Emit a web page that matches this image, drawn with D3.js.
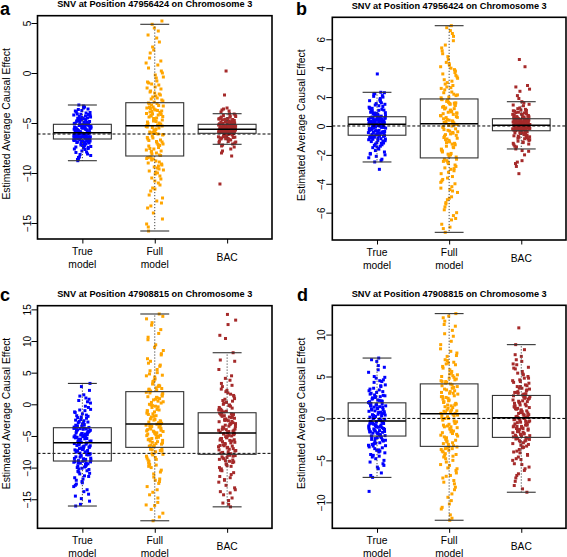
<!DOCTYPE html>
<html><head><meta charset="utf-8">
<script src="https://cdn.jsdelivr.net/npm/d3@7"></script>
<style>body{margin:0;background:#fff}svg{display:block;font-family:"Liberation Sans",Arial,Helvetica,sans-serif}</style>
</head><body><svg id="chart" width="567" height="557"></svg>
<script>
// ---------------- data ----------------
const categories = ["True\nmodel", "Full\nmodel", "BAC"];
const seriesColors = ["#0000FF", "#FFA500", "#A52A2A"];
const panelLetters = ["a", "b", "c", "d"];
const panelTitles = [
  "SNV at Position 47956424 on Chromosome 3",
  "SNV at Position 47956424 on Chromosome 3",
  "SNV at Position 47908815 on Chromosome 3",
  "SNV at Position 47908815 on Chromosome 3"
];
const yAxisTitle = "Estimated Average Causal Effect";
const yTicksA = [5, 0, -5, -10, -15];
const yTicksB = [6, 4, 2, 0, -2, -4, -6];
const yTicksC = [15, 10, 5, 0, -5, -10, -15];
const yTicksD = [10, 5, 0, -5, -10];
const yDomainA = [-16.6, 5.73];
const yDomainB = [-7.89, 7.52];
const yDomainC = [-19.59, 15.58];
const yDomainD = [-13.1, 13.49];
const trueEffects = [-6.1, 0, -7.75, 0];
// box statistics per category: [lower whisker, Q1, median, Q3, upper whisker]
const boxA = [[-8.77, -6.6, -5.97, -5.13, -3.2], [-15.8, -8.3, -5.27, -2.97, 4.87], [-7.13, -6.03, -5.63, -5.13, -4.07]];
const boxB = [[-2.49, -0.64, 0.12, 0.64, 2.33], [-7.36, -2.21, 0.16, 1.87, 6.94], [-1.59, -0.33, 0.05, 0.5, 1.68]];
const boxC = [[-16.07, -8.96, -6.06, -3.7, 3.3], [-18.4, -6.8, -3.1, 2.0, 14.27], [-16.2, -7.9, -4.53, -1.33, 8.15]];
const boxD = [[-7.03, -2.1, -0.32, 1.86, 7.2], [-12.14, -3.33, 0.55, 4.12, 12.5], [-8.8, -2.26, 0.07, 2.74, 8.8]];

const aTrue = [-6.7,-7.3,-8.77,-6.9,-7.8,-6.65,-7.1,-8.4,-6.8,-7.5,-6.95,-8.1,-7.2,-6.75,-7.65,-8.6,-7.0,-6.85,-7.4,-7.9,-6.7,-8.25,-7.15,-6.9,-7.55,
 -6.1,-6.45,-6.25,-6.55,-6.0,-6.35,-6.2,-6.5,-6.05,-6.4,-6.15,-6.3,-6.58,-6.02,-6.22,-6.48,-6.12,-6.38,-6.28,-6.52,-6.08,-6.42,-6.18,-6.32,-6.6,
 -5.8,-5.4,-5.6,-5.2,-5.9,-5.5,-5.3,-5.7,-5.15,-5.45,-5.85,-5.65,-5.25,-5.55,-5.35,-5.75,-5.95,-5.18,-5.62,-5.42,-5.82,-5.28,-5.52,-5.72,-5.13,
 -4.9,-4.4,-5.0,-4.1,-3.6,-4.7,-5.05,-4.3,-3.2,-4.85,-4.55,-3.9,-4.95,-4.6,-4.2,-3.4,-4.75,-5.1,-4.45,-3.8,-4.0,-4.65,-4.25,-3.5,-4.8,
 -6.72,-7.05,-7.6,-6.88,-8.45,-6.62,-7.25,-7.95,-6.78,-8.15,-7.35,-6.98,-8.65,-7.45,-6.83,
 -6.03,-6.27,-6.43,-6.57,-6.13,-6.33,-6.07,-6.47,-6.23,-6.53,-6.17,-6.37,-6.11,-6.41,-6.29,
 -5.17,-5.33,-5.49,-5.66,-5.84,-5.23,-5.41,-5.57,-5.77,-5.93,-5.27,-5.47,-5.69,-5.87,-5.37,
 -4.92,-4.52,-4.15,-3.75,-5.02,-4.68,-4.35,-3.95,-3.3,-4.82,-4.48,-4.12,-5.08,-4.62,-3.65];
const aFull = [-8.5,-9.2,-10.1,-15.8,-8.9,-11.5,-9.7,-12.8,-8.4,-10.6,-9.4,-13.5,-11.0,-8.7,-14.6,-9.9,-12.2,-10.3,-8.6,-15.1,-9.5,-11.8,-13.0,-10.8,-9.0,
 -5.5,-6.3,-7.1,-8.0,-5.9,-6.7,-7.6,-5.4,-6.1,-7.9,-6.9,-5.7,-7.3,-8.2,-6.5,-5.35,-7.0,-6.0,-7.8,-5.8,-6.6,-7.45,-8.1,-6.2,-5.6,
 -3.1,-4.0,-4.8,-3.5,-5.2,-4.3,-3.8,-4.6,-3.0,-5.0,-4.1,-3.3,-4.5,-3.9,-5.1,-3.6,-4.9,-4.2,-3.2,-4.7,-3.7,-4.4,-5.15,-3.4,-4.05,
 -2.5,-1.8,0.2,-2.0,3.8,-1.2,4.87,-2.8,-0.5,1.5,-2.2,2.3,-1.5,0.8,-2.6,5.2,-0.2,-1.0,3.1,-2.4,1.0,-0.8,2.0,-1.6,4.5,
 -8.45,-9.3,-10.5,-12.5,-8.8,-9.8,-11.2,-14.0,-8.55,-10.0,-13.3,-9.1,-11.6,-15.4,-9.6,
 -5.45,-6.15,-6.85,-7.55,-8.25,-5.75,-6.45,-7.15,-7.85,-5.3,-6.05,-6.75,-7.25,-5.95,-7.7,
 -3.05,-3.55,-4.15,-4.65,-5.05,-3.25,-3.85,-4.35,-4.85,-3.45,-3.95,-4.55,-5.25,-3.75,-4.25,
 -2.7,-1.4,0.5,-2.1,2.6,-0.4,3.5,-1.9,1.2,-2.9,-0.9,4.2,-1.1,0.0,-2.3];
const aBAC = [-6.1,-6.5,-7.1,-6.2,-6.8,-6.05,-6.35,-7.4,-6.15,-6.6,-8.3,-6.25,-6.9,-6.1,-7.8,-6.45,-6.3,-11.1,-6.7,-6.08,-7.0,-6.55,-8.0,-6.2,-6.4,
 -5.7,-5.9,-5.8,-6.0,-5.65,-5.85,-5.75,-5.95,-5.68,-5.88,-5.78,-5.98,-5.72,-5.82,-5.92,-5.66,-5.86,-5.76,-5.96,-5.7,-5.8,-5.9,-5.74,-5.84,-5.94,
 -5.2,-5.4,-5.5,-5.3,-5.6,-5.25,-5.45,-5.35,-5.55,-5.15,-5.42,-5.28,-5.58,-5.38,-5.48,-5.18,-5.52,-5.32,-5.22,-5.6,-5.44,-5.34,-5.56,-5.26,-5.46,
 -5.0,-4.7,-4.4,-5.1,-4.9,-4.6,-4.07,-5.05,-4.8,-3.5,-4.5,-4.95,-2.2,-4.2,-4.85,-3.7,-4.65,0.2,-5.08,-4.3,-3.6,-4.75,-4.55,-3.9,-4.98,
 -6.12,-6.38,-6.65,-7.2,-6.05,-6.28,-6.5,-7.6,-6.18,-6.42,-6.85,-7.3,-6.1,-6.58,-6.95,
 -5.67,-5.77,-5.87,-5.97,-5.73,-5.83,-5.93,-5.69,-5.79,-5.89,-5.99,-5.71,-5.81,-5.91,-5.75,
 -5.19,-5.29,-5.39,-5.49,-5.59,-5.21,-5.31,-5.41,-5.51,-5.61,-5.24,-5.36,-5.47,-5.54,-5.16,
 -5.03,-4.88,-4.72,-4.58,-4.42,-4.25,-4.1,-5.06,-4.92,-4.78,-4.62,-4.35,-3.8,-4.68,-4.97];

const bTrue = [-0.7,-1.2,-2.49,-0.9,-1.6,-0.75,-1.05,-2.1,-0.8,-1.4,-0.68,-1.8,-1.0,-0.85,-2.3,-1.25,-0.95,-3.0,-1.5,-0.72,-1.15,-1.95,-0.88,-1.35,-2.0,
 -0.5,-0.2,0.0,-0.6,-0.3,0.1,-0.45,-0.1,-0.55,-0.25,0.05,-0.35,-0.15,-0.6,-0.05,-0.4,0.08,-0.28,-0.5,-0.12,-0.38,0.02,-0.22,-0.48,-0.08,
 0.2,0.4,0.6,0.3,0.5,0.15,0.45,0.25,0.55,0.35,0.62,0.18,0.42,0.28,0.52,0.38,0.22,0.58,0.32,0.48,0.14,0.44,0.26,0.56,0.36,
 0.8,1.2,2.33,0.9,1.5,0.7,1.0,2.1,0.75,1.3,1.8,0.85,1.1,3.6,0.95,1.6,2.25,0.72,1.4,1.05,2.0,0.88,1.25,1.7,2.2,
 -0.66,-0.82,-1.08,-1.3,-1.7,-2.2,-0.7,-0.92,-1.18,-1.45,-1.9,-2.4,-0.78,-1.02,-1.55,
 -0.58,-0.42,-0.32,-0.18,-0.02,0.07,-0.52,-0.36,-0.24,-0.1,0.11,-0.46,-0.3,-0.14,0.0,
 0.16,0.24,0.34,0.43,0.53,0.61,0.19,0.29,0.39,0.49,0.59,0.21,0.31,0.47,0.57,
 0.68,0.78,0.92,1.08,1.22,1.35,1.55,1.75,1.9,2.05,2.3,0.82,0.98,1.15,1.45];
const bFull = [-2.5,-3.3,-4.2,-7.36,-2.8,-5.0,-3.7,-6.2,-2.4,-4.6,-3.0,-5.8,-4.0,-2.6,-6.8,-3.5,-5.4,-2.3,-4.4,-7.1,-3.1,-5.1,-3.9,-6.5,-2.9,
 -0.2,-1.0,-1.8,-0.5,-1.4,0.1,-2.0,-0.8,-1.2,-0.3,-1.6,0.0,-0.6,-2.15,-1.1,-0.1,-1.5,-0.9,-0.4,-1.9,-0.7,-1.3,0.05,-1.7,-0.45,
 0.3,0.9,1.5,0.5,1.2,1.8,0.7,1.0,0.2,1.6,0.4,1.3,0.8,1.7,0.6,1.1,0.25,1.45,0.95,1.85,0.35,1.25,0.65,1.55,0.85,
 2.2,3.0,4.1,6.94,2.5,3.8,2.0,5.2,2.8,4.4,3.4,6.6,2.3,3.9,4.8,2.6,3.1,5.6,2.1,4.2,3.6,6.2,2.7,3.3,4.0,
 -2.3,-2.7,-3.2,-3.8,-4.5,-5.3,-6.0,-7.0,-2.45,-2.95,-3.6,-4.3,-4.9,-5.6,-6.4,
 -2.1,-1.75,-1.45,-1.15,-0.85,-0.55,-0.25,0.12,-1.95,-1.65,-1.25,-0.95,-0.65,-0.35,-0.05,
 0.22,0.45,0.72,0.98,1.18,1.42,1.62,1.82,0.32,0.58,0.88,1.08,1.35,1.58,1.75,
 1.95,2.35,2.9,3.5,4.3,5.0,5.9,6.8,2.15,2.65,3.2,3.7,4.6,5.4,6.4];
const bBAC = [-0.4,-0.7,-1.0,-0.5,-1.59,-0.8,-0.45,-1.2,-0.6,-2.5,-0.9,-0.38,-1.4,-0.55,-3.3,-0.75,-1.1,-2.8,-0.65,-0.42,-1.3,-2.0,-0.85,-1.75,-2.4,
 -0.3,-0.1,0.0,-0.2,-0.25,-0.05,-0.15,0.03,-0.28,-0.12,-0.22,-0.02,-0.18,-0.32,-0.08,0.04,-0.27,-0.14,-0.2,-0.06,-0.3,-0.1,-0.24,0.01,-0.16,
 0.1,0.3,0.45,0.2,0.38,0.08,0.25,0.42,0.15,0.33,0.48,0.12,0.28,0.4,0.18,0.35,0.06,0.22,0.44,0.3,0.1,0.26,0.5,0.16,0.36,
 0.6,0.9,1.2,0.7,1.68,0.55,1.0,4.6,0.8,1.4,0.65,2.8,1.1,0.75,4.1,0.95,1.5,0.58,2.7,0.85,2.4,1.05,0.62,2.1,0.72,
 -0.35,-0.48,-0.62,-0.78,-0.95,-1.15,-1.45,-0.4,-0.52,-0.68,-0.88,-1.05,-1.25,-1.7,-2.6,
 -0.31,-0.26,-0.21,-0.17,-0.13,-0.09,-0.04,0.02,-0.29,-0.23,-0.19,-0.11,-0.07,-0.01,-0.16,
 0.07,0.13,0.19,0.24,0.29,0.34,0.39,0.46,0.09,0.17,0.23,0.32,0.41,0.49,0.27,
 0.52,0.63,0.78,0.92,1.08,1.25,1.45,1.6,0.57,0.68,0.82,1.02,1.15,1.9,2.55];

const cTrue = [-9.2,-10.3,-12.4,-16.07,-9.6,-11.0,-9.1,-13.8,-10.0,-9.4,-14.9,-11.6,-9.8,-10.7,-15.3,-9.0,-12.0,-10.5,-9.3,-13.0,-11.3,-9.7,-14.2,-10.1,-12.8,
 -6.3,-7.0,-7.8,-8.6,-6.5,-7.3,-8.1,-6.2,-7.5,-8.9,-6.8,-7.1,-8.3,-6.1,-7.7,-8.5,-6.6,-7.4,-8.0,-6.9,-7.2,-8.7,-6.4,-7.9,-6.7,
 -4.0,-4.8,-5.5,-3.8,-5.0,-5.9,-4.3,-4.6,-5.3,-3.9,-5.7,-4.1,-4.9,-5.2,-4.4,-6.0,-3.75,-4.7,-5.6,-4.2,-5.1,-4.5,-5.4,-3.85,-5.8,
 -3.2,-2.1,-0.5,-3.5,-1.3,1.0,-2.7,3.3,-3.0,-1.8,0.4,-2.4,-3.6,-1.0,-2.9,0.8,-1.5,-3.3,-2.2,1.3,-0.8,-2.6,-3.4,-1.9,2.8,
 -9.05,-9.5,-10.2,-10.9,-11.8,-12.6,-13.5,-15.8,-9.15,-9.9,-10.6,-11.4,-12.2,-14.5,-9.35,
 -6.15,-6.55,-6.95,-7.35,-7.75,-8.15,-8.55,-8.85,-6.35,-6.75,-7.15,-7.55,-7.95,-8.35,-8.8,
 -3.72,-4.05,-4.35,-4.65,-4.95,-5.25,-5.55,-5.85,-3.95,-4.25,-4.55,-4.85,-5.15,-5.45,-5.95,
 -3.65,-3.1,-2.5,-1.7,-0.9,0.2,1.5,-3.45,-2.8,-2.0,-1.2,-0.3,0.6,2.2,-3.25];
const cFull = [-7.5,-9.0,-11.8,-18.4,-8.2,-13.5,-7.1,-10.4,-16.0,-8.8,-12.5,-7.8,-17.2,-9.6,-14.3,-7.3,-11.0,-8.5,-15.5,-10.0,-7.0,-12.0,-9.3,-17.8,-8.0,
 -3.3,-4.5,-5.8,-3.8,-6.5,-4.0,-5.2,-3.5,-6.1,-4.8,-5.5,-3.2,-6.7,-4.2,-5.0,-3.9,-6.3,-4.6,-5.6,-3.6,-6.0,-4.3,-5.3,-3.4,-4.9,
 -2.5,-1.0,0.5,-2.0,1.5,-0.3,-2.8,0.9,-1.5,1.9,-0.8,-2.3,0.2,-1.2,1.2,-2.9,-0.5,1.7,-1.8,0.0,-2.6,0.7,-1.4,1.0,-0.1,
 2.5,4.0,6.5,14.27,3.2,8.5,2.2,5.3,11.8,3.8,7.2,2.8,12.5,4.6,9.4,2.4,6.0,3.5,13.5,5.0,2.1,8.0,4.3,10.6,3.0,
 -7.2,-7.9,-8.7,-9.5,-10.7,-11.5,-13.0,-14.8,-16.6,-7.4,-8.4,-9.8,-12.2,-13.9,-15.9,
 -3.15,-3.7,-4.1,-4.4,-4.7,-5.1,-5.4,-5.7,-6.2,-6.6,-3.45,-4.25,-4.95,-5.9,-6.45,
 -3.0,-2.4,-1.6,-0.9,-0.2,0.4,1.1,1.8,-2.7,-1.9,-1.1,-0.4,0.3,1.3,0.8,
 2.3,2.9,3.6,4.5,5.5,6.8,7.8,9.0,10.2,11.2,12.9,13.9,2.6,4.8,6.2];
const cBAC = [-8.2,-9.5,-11.4,-16.2,-8.6,-13.2,-8.0,-10.2,-14.8,-8.9,-12.3,-9.0,-15.6,-10.8,-8.4,-13.8,-9.8,-11.9,-8.1,-15.2,-10.5,-9.2,-12.8,-8.7,-14.0,
 -4.7,-5.6,-6.8,-7.7,-5.0,-6.2,-7.3,-4.9,-5.9,-7.0,-5.3,-6.5,-7.8,-4.6,-6.0,-7.5,-5.4,-6.6,-5.1,-7.2,-5.7,-6.4,-4.8,-6.9,-5.5,
 -1.5,-2.4,-3.5,-4.3,-1.9,-2.9,-4.0,-1.4,-3.1,-3.8,-2.2,-4.5,-1.7,-2.7,-3.3,-4.1,-2.0,-3.6,-1.6,-2.5,-4.4,-3.0,-1.8,-3.9,-2.6,
 -1.0,0.5,2.0,-0.5,3.8,0.0,1.2,14.2,-0.8,4.5,0.8,13.3,-0.2,2.8,8.15,0.3,10.9,1.6,-1.2,6.8,12.6,3.3,-0.6,10.4,5.5,
 -8.05,-8.5,-9.1,-9.7,-10.4,-11.1,-12.0,-13.5,-15.8,-8.3,-8.8,-9.4,-10.0,-11.6,-14.3,
 -4.6,-5.0,-5.4,-5.8,-6.3,-6.7,-7.1,-7.6,-4.75,-5.2,-5.65,-6.1,-6.55,-7.4,-7.85,
 -1.4,-1.85,-2.3,-2.75,-3.2,-3.65,-4.1,-4.5,-1.55,-2.1,-2.55,-3.05,-3.45,-3.95,-4.25,
 -1.1,-0.7,-0.3,0.2,0.9,1.8,2.4,3.0,4.1,-0.9,-0.1,0.6,1.4,2.2,7.0];

const dTrue = [-2.4,-3.2,-4.5,-7.03,-2.7,-3.8,-5.2,-2.2,-3.0,-4.1,-6.0,-2.5,-3.5,-4.8,-8.7,-2.9,-3.3,-5.6,-2.3,-4.3,-6.5,-3.6,-2.6,-4.0,-3.1,
 -0.5,-1.0,-1.6,-2.0,-0.7,-1.3,-1.8,-0.4,-1.1,-1.5,-0.9,-1.9,-0.6,-1.2,-1.7,-0.35,-0.8,-1.4,-2.05,-1.05,-0.55,-1.65,-0.75,-1.35,-1.95,
 0.0,0.6,1.2,1.8,0.3,0.9,1.5,-0.2,0.45,1.05,1.65,0.15,0.75,1.35,-0.1,0.5,1.1,1.7,0.25,0.85,1.4,0.05,0.65,1.25,1.55,
 2.1,2.8,4.0,7.2,2.3,3.2,4.8,2.0,2.6,3.6,6.1,2.2,3.0,4.4,2.5,5.5,3.4,2.4,4.6,6.8,2.9,3.8,5.0,2.7,6.3,
 -2.15,-2.55,-2.95,-3.4,-3.9,-4.4,-5.0,-5.8,-6.8,-2.3,-2.75,-3.25,-3.75,-4.6,-5.4,
 -0.4,-0.65,-0.95,-1.25,-1.55,-1.85,-2.08,-0.45,-0.85,-1.15,-1.45,-1.75,-0.6,-1.0,-1.6,
 -0.25,0.1,0.4,0.7,1.0,1.3,1.6,1.82,-0.05,0.35,0.8,1.15,1.45,0.55,0.2,
 1.9,2.15,2.45,2.75,3.1,3.5,3.9,4.3,4.9,5.8,7.0,2.05,2.6,3.3,4.5];
const dFull = [-3.6,-4.8,-6.5,-12.14,-4.0,-7.4,-3.5,-5.5,-9.8,-4.4,-8.2,-3.8,-10.6,-5.0,-6.9,-3.4,-11.5,-4.6,-7.8,-5.9,-3.7,-9.0,-4.2,-6.2,-10.2,
 -0.2,-1.5,-2.8,0.4,-1.0,-2.2,-0.6,-3.1,0.1,-1.8,-2.5,-0.4,-1.2,-3.0,0.3,-0.9,-2.0,-1.4,0.0,-2.6,-0.7,-1.7,0.5,-2.3,-1.1,
 0.8,2.0,3.3,1.2,2.6,4.0,0.7,1.7,3.0,2.3,3.7,1.0,2.9,1.5,3.5,0.6,2.1,3.9,1.3,2.5,0.9,3.2,1.9,2.7,1.6,
 4.5,5.6,7.0,12.5,4.8,6.2,9.8,4.3,5.2,8.0,11.2,4.6,6.6,5.0,10.5,4.4,7.5,5.8,12.0,4.9,6.9,8.8,5.4,11.6,6.4,
 -3.4,-3.9,-4.5,-5.2,-6.0,-6.8,-7.6,-8.5,-9.4,-10.8,-11.9,-3.6,-4.3,-5.6,-7.1,
 -3.25,-2.7,-2.1,-1.6,-1.0,-0.5,0.0,0.45,-2.9,-2.4,-1.9,-1.3,-0.8,-0.3,0.2,
 0.6,1.0,1.4,1.8,2.2,2.6,3.0,3.4,3.8,4.1,0.85,1.6,2.4,3.1,3.6,
 4.2,4.7,5.3,6.0,6.7,7.4,8.3,9.2,10.1,11.0,12.2,4.4,5.1,6.5,7.8];
const dBAC = [-2.5,-3.4,-4.8,-8.8,-2.8,-4.0,-6.2,-2.4,-3.1,-5.5,-7.5,-2.6,-3.7,-5.0,-2.9,-6.8,-4.3,-3.2,-8.0,-2.7,-4.6,-5.8,-3.5,-7.1,-2.35,
 -0.2,-1.0,-1.8,-0.5,-1.4,-2.1,-0.1,-0.8,-1.6,-0.3,-1.2,-2.2,-0.6,-1.9,-0.9,0.0,-1.5,-0.4,-1.1,-2.0,-0.7,-1.3,-1.7,0.05,-0.95,
 0.3,1.0,1.8,2.5,0.6,1.3,2.1,0.2,0.9,1.6,2.7,0.4,1.2,2.3,0.8,1.5,0.1,1.9,2.6,0.5,1.1,2.0,0.7,1.4,2.4,
 3.0,4.2,5.6,8.8,3.3,4.6,6.5,2.9,3.8,5.0,7.4,3.1,4.0,10.8,3.5,5.3,7.0,3.9,4.4,6.0,8.2,3.2,4.8,3.6,5.9,
 -2.3,-2.65,-3.0,-3.45,-3.9,-4.4,-4.9,-5.4,-6.0,-6.6,-7.3,-8.4,-2.45,-3.3,-4.1,
 -2.2,-1.85,-1.55,-1.25,-0.95,-0.65,-0.35,-0.05,-2.05,-1.65,-1.2,-0.8,-0.45,-0.15,0.03,
 0.1,0.45,0.8,1.15,1.5,1.85,2.2,2.55,0.25,0.65,1.0,1.35,1.7,2.05,2.4,
 2.8,3.1,3.4,3.8,4.3,4.8,5.4,6.1,6.8,7.6,2.95,3.6,4.5,5.2,6.4];

// ---------------- layout ----------------
const panels = [
  {series: [aTrue, aFull, aBAC], box: boxA, domain: yDomainA, ticks: yTicksA, left: 37.5, right: 272, top: 15.7, bottom: 239, lx: 0, ly: 14.5},
  {series: [bTrue, bFull, bBAC], box: boxB, domain: yDomainB, ticks: yTicksB, left: 332.3, right: 566, top: 17.3, bottom: 240, lx: 296, ly: 14.5},
  {series: [cTrue, cFull, cBAC], box: boxC, domain: yDomainC, ticks: yTicksC, left: 37.5, right: 272, top: 305.7, bottom: 528.3, lx: 0, ly: 300.5},
  {series: [dTrue, dFull, dBAC], box: boxD, domain: yDomainD, ticks: yTicksD, left: 332.3, right: 566, top: 305.3, bottom: 528.3, lx: 297, ly: 300.5}
];

const svg = d3.select("#chart");
const fmt = d => d < 0 ? "\u2212" + Math.abs(d) : String(d);
const jitterAmount = 0.12;

panels.forEach((p, pi) => {
  const g = svg.append("g");
  const x = d3.scaleLinear().domain([0.38, 3.62]).range([p.left, p.right]);
  const y = d3.scaleLinear().domain(p.domain).range([p.bottom, p.top]);

  // jittered points
  p.series.forEach((vals, k) => {
    g.append("g").selectAll("rect").data(vals).join("rect")
      .attr("x", (d, j) => x(k + 1 + ((((j * 0.6180339887 + k * 0.29 + pi * 0.13) % 1) - 0.5) * 2 * jitterAmount)) - 1.5)
      .attr("y", d => y(d) - 1.5)
      .attr("width", 3).attr("height", 3)
      .attr("fill", seriesColors[k]);
  });

  // true effect reference line
  g.append("line")
    .attr("x1", p.left).attr("x2", p.right)
    .attr("y1", y(trueEffects[pi])).attr("y2", y(trueEffects[pi]))
    .attr("stroke", "#000").attr("stroke-width", 1).attr("stroke-dasharray", "3,2");

  // boxplots
  p.box.forEach((s, k) => {
    const cx = x(k + 1);
    const bx0 = x(k + 1 - 0.4), bx1 = x(k + 1 + 0.4);
    const cx0 = x(k + 1 - 0.2), cx1 = x(k + 1 + 0.2);
    const bg = g.append("g");
    bg.append("line").attr("x1", cx).attr("x2", cx).attr("y1", y(s[3])).attr("y2", y(s[4]))
      .attr("stroke", "#444").attr("stroke-width", 1).attr("stroke-dasharray", "1.2,1.8");
    bg.append("line").attr("x1", cx).attr("x2", cx).attr("y1", y(s[1])).attr("y2", y(s[0]))
      .attr("stroke", "#444").attr("stroke-width", 1).attr("stroke-dasharray", "1.2,1.8");
    bg.append("line").attr("x1", cx0).attr("x2", cx1).attr("y1", y(s[4])).attr("y2", y(s[4]))
      .attr("stroke", "#333").attr("stroke-width", 1.1);
    bg.append("line").attr("x1", cx0).attr("x2", cx1).attr("y1", y(s[0])).attr("y2", y(s[0]))
      .attr("stroke", "#333").attr("stroke-width", 1.1);
    bg.append("rect").attr("x", bx0).attr("y", y(s[3])).attr("width", bx1 - bx0).attr("height", y(s[1]) - y(s[3]))
      .attr("fill", "none").attr("stroke", "#333").attr("stroke-width", 1.1);
    bg.append("line").attr("x1", bx0).attr("x2", bx1).attr("y1", y(s[2])).attr("y2", y(s[2]))
      .attr("stroke", "#000").attr("stroke-width", 1.5);
  });

  // frame
  g.append("rect").attr("x", p.left).attr("y", p.top)
    .attr("width", p.right - p.left).attr("height", p.bottom - p.top)
    .attr("fill", "none").attr("stroke", "#000").attr("stroke-width", 1.6);

  // y axis
  const ya = g.append("g").attr("transform", `translate(${p.left},0)`)
    .call(d3.axisLeft(y).tickValues(p.ticks).tickSize(6).tickFormat(fmt));
  ya.select(".domain").remove();
  ya.selectAll(".tick line").attr("stroke", "#000").attr("stroke-width", 1);
  ya.selectAll(".tick text")
    .attr("x", null).attr("dy", null)
    .attr("transform", "translate(-7,0) rotate(-90)")
    .attr("text-anchor", "middle")
    .attr("font-size", 10).attr("font-family", "Liberation Sans, Arial, sans-serif").attr("fill", "#000");

  // x axis
  const xa = g.append("g").attr("transform", `translate(0,${p.bottom})`)
    .call(d3.axisBottom(x).tickValues([1, 2, 3]).tickSize(4.5).tickFormat(""));
  xa.select(".domain").remove();
  xa.selectAll(".tick line").attr("stroke", "#000").attr("stroke-width", 1);
  categories.forEach((c, k) => {
    const lines = c.split("\n");
    const t = g.append("text").attr("text-anchor", "middle").attr("font-size", 10.3).attr("fill", "#000");
    lines.forEach((ln, li) => {
      t.append("tspan").attr("x", x(k + 1))
        .attr("y", p.bottom + 22 + (li - (lines.length - 1) / 2) * 13)
        .text(ln);
    });
  });

  // y axis title
  const cy = (p.top + p.bottom) / 2 - 3.5;
  g.append("text")
    .attr("transform", `translate(${p.left - 27.5},${cy}) rotate(-90)`)
    .attr("text-anchor", "middle").attr("font-size", 10.4).attr("fill", "#000")
    .text(yAxisTitle);

  // title
  g.append("text")
    .attr("x", (p.left + p.right) / 2).attr("y", p.top - 8.3)
    .attr("text-anchor", "middle").attr("font-size", 9.2).attr("font-weight", "bold").attr("fill", "#000")
    .text(panelTitles[pi]);

  // panel letter
  g.append("text")
    .attr("x", p.lx).attr("y", p.ly)
    .attr("font-size", 18).attr("font-weight", "bold").attr("fill", "#000")
    .text(panelLetters[pi]);
});
</script></body></html>
